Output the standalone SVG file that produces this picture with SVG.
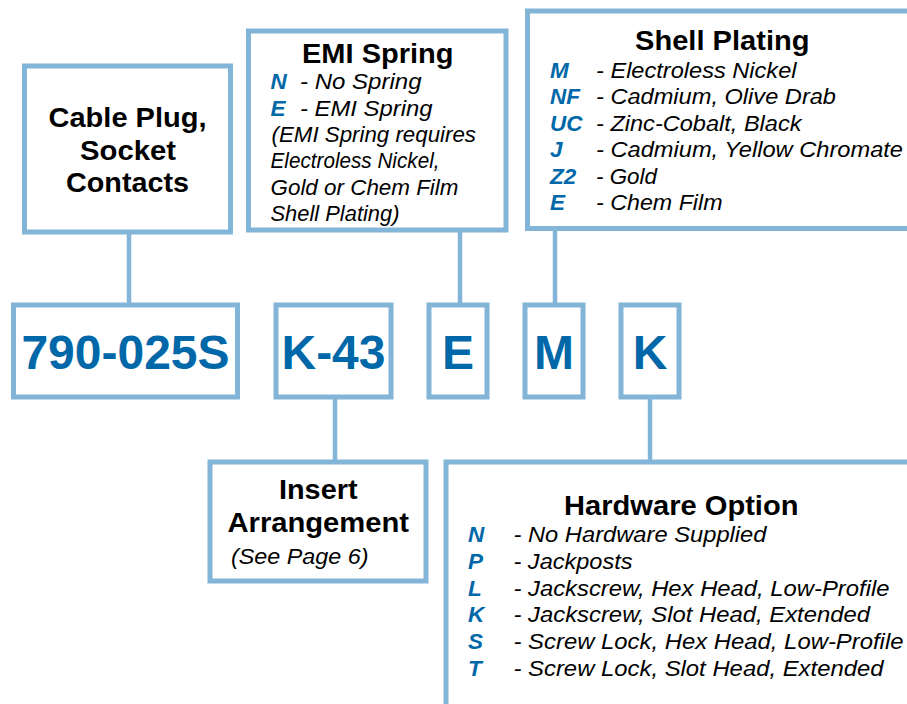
<svg xmlns="http://www.w3.org/2000/svg" width="907" height="704" viewBox="0 0 907 704">
<style>
.box{fill:#fff;stroke:#82b5d8;stroke-width:5}
.con{stroke:#82b5d8;stroke-width:4.5;fill:none}
text{font-family:"Liberation Sans",Arial,sans-serif}
.title{font-size:28px;font-weight:bold;fill:#000}
.code{font-size:48px;font-weight:bold;fill:#0068a9;text-anchor:middle}
.it{font-style:italic;fill:#000;font-size:22.5px}
.k{font-style:italic;font-weight:bold;fill:#0068a9;font-size:22.5px}
</style>
<rect width="907" height="704" fill="#fff"/>
<g id="connectors">
<line class="con" x1="129" y1="232" x2="129" y2="305"/>
<line class="con" x1="460" y1="230" x2="460" y2="305"/>
<line class="con" x1="555" y1="228" x2="555" y2="305"/>
<line class="con" x1="335" y1="397" x2="335" y2="462"/>
<line class="con" x1="650" y1="397" x2="650" y2="462"/>
</g>
<g id="cable-plug">
<rect class="box" x="24.5" y="66" width="206" height="166"/>
<text class="title" x="48.5" y="127" textLength="158" lengthAdjust="spacingAndGlyphs">Cable Plug,</text>
<text class="title" x="80" y="160" textLength="96" lengthAdjust="spacingAndGlyphs">Socket</text>
<text class="title" x="66" y="192" textLength="123" lengthAdjust="spacingAndGlyphs">Contacts</text>
</g>
<g id="emi-spring">
<rect class="box" x="248.5" y="31" width="257.5" height="199"/>
<text class="title" x="302" y="62.5" textLength="151.5" lengthAdjust="spacingAndGlyphs">EMI Spring</text>
<text class="k" x="270.5" y="89">N</text><text class="it" x="300" y="89" textLength="121.5" lengthAdjust="spacingAndGlyphs">- No Spring</text>
<text class="k" x="270.5" y="115.5">E</text><text class="it" x="300" y="115.5" textLength="132.5" lengthAdjust="spacingAndGlyphs">- EMI Spring</text>
<text class="it" x="271.5" y="142" textLength="204.5" lengthAdjust="spacingAndGlyphs">(EMI Spring requires</text>
<text class="it" x="270.5" y="168" textLength="169" lengthAdjust="spacingAndGlyphs">Electroless Nickel,</text>
<text class="it" x="270.5" y="194.5" textLength="188" lengthAdjust="spacingAndGlyphs">Gold or Chem Film</text>
<text class="it" x="270.5" y="220.5" textLength="129" lengthAdjust="spacingAndGlyphs">Shell Plating)</text>
</g>
<g id="shell-plating">
<rect class="box" x="527.5" y="11" width="400" height="217.5"/>
<text class="title" x="635" y="50" textLength="174.5" lengthAdjust="spacingAndGlyphs">Shell Plating</text>
<text class="k" x="550" y="77.5">M</text><text class="it" x="596" y="77.5" textLength="200.5" lengthAdjust="spacingAndGlyphs">- Electroless Nickel</text>
<text class="k" x="550" y="104">NF</text><text class="it" x="596" y="104" textLength="240" lengthAdjust="spacingAndGlyphs">- Cadmium, Olive Drab</text>
<text class="k" x="550" y="130.5">UC</text><text class="it" x="596" y="130.5" textLength="205.5" lengthAdjust="spacingAndGlyphs">- Zinc-Cobalt, Black</text>
<text class="k" x="550" y="157">J</text><text class="it" x="596" y="157" textLength="307" lengthAdjust="spacingAndGlyphs">- Cadmium, Yellow Chromate</text>
<text class="k" x="550" y="183.5">Z2</text><text class="it" x="596" y="183.5" textLength="61" lengthAdjust="spacingAndGlyphs">- Gold</text>
<text class="k" x="550" y="210">E</text><text class="it" x="596" y="210" textLength="126.5" lengthAdjust="spacingAndGlyphs">- Chem Film</text>
</g>
<g id="code-790">
<rect class="box" x="13.5" y="305" width="224" height="92"/>
<text class="code" x="125.5" y="369">790-025S</text>
</g>
<g id="code-k43">
<rect class="box" x="276" y="305" width="115" height="92"/>
<text class="code" x="333.5" y="369">K-43</text>
</g>
<g id="code-e">
<rect class="box" x="429" y="305" width="58" height="92"/>
<text class="code" x="458" y="369">E</text>
</g>
<g id="code-m">
<rect class="box" x="525" y="305" width="58" height="92"/>
<text class="code" x="554" y="369">M</text>
</g>
<g id="code-k">
<rect class="box" x="621" y="305" width="58" height="92"/>
<text class="code" x="650" y="369">K</text>
</g>
<g id="insert-arrangement">
<rect class="box" x="210" y="462" width="216" height="119"/>
<text class="title" x="279" y="498.5" textLength="78.5" lengthAdjust="spacingAndGlyphs">Insert</text>
<text class="title" x="227.5" y="531.5" textLength="181.5" lengthAdjust="spacingAndGlyphs">Arrangement</text>
<text class="it" x="231" y="563.5" textLength="137.5" lengthAdjust="spacingAndGlyphs">(See Page 6)</text>
</g>
<g id="hardware-option">
<rect class="box" x="446" y="462" width="480" height="260"/>
<text class="title" x="564" y="515" textLength="234.5" lengthAdjust="spacingAndGlyphs">Hardware Option</text>
<text class="k" x="468" y="542">N</text><text class="it" x="513.5" y="542" textLength="253" lengthAdjust="spacingAndGlyphs">- No Hardware Supplied</text>
<text class="k" x="468" y="568.7">P</text><text class="it" x="513.5" y="568.7" textLength="119" lengthAdjust="spacingAndGlyphs">- Jackposts</text>
<text class="k" x="468" y="595.5">L</text><text class="it" x="513.5" y="595.5" textLength="376" lengthAdjust="spacingAndGlyphs">- Jackscrew, Hex Head, Low-Profile</text>
<text class="k" x="468" y="622.2">K</text><text class="it" x="513.5" y="622.2" textLength="356.5" lengthAdjust="spacingAndGlyphs">- Jackscrew, Slot Head, Extended</text>
<text class="k" x="468" y="649">S</text><text class="it" x="513.5" y="649" textLength="390" lengthAdjust="spacingAndGlyphs">- Screw Lock, Hex Head, Low-Profile</text>
<text class="k" x="468" y="675.7">T</text><text class="it" x="513.5" y="675.7" textLength="370" lengthAdjust="spacingAndGlyphs">- Screw Lock, Slot Head, Extended</text>
</g>
</svg>
